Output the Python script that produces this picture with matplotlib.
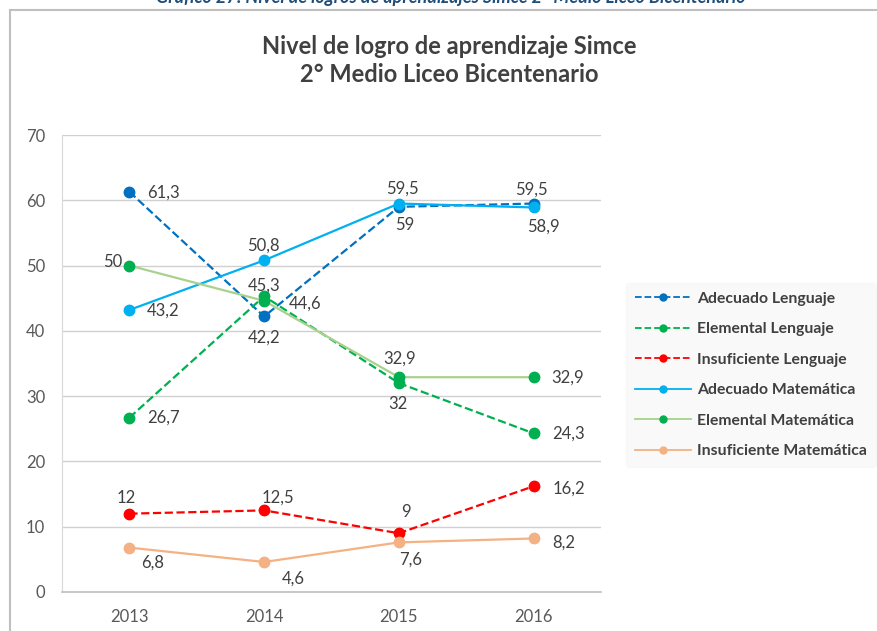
import matplotlib
matplotlib.use("Agg")
import matplotlib.pyplot as plt
from matplotlib.lines import Line2D

plt.rcParams['font.family'] = ['Lato', 'DejaVu Sans']

years = ["2013", "2014", "2015", "2016"]
adecuado_lenguaje = [61.3, 42.2, 59, 59.5]
elemental_lenguaje = [26.7, 45.3, 32, 24.3]
insuficiente_lenguaje = [12, 12.5, 9, 16.2]
adecuado_matematica = [43.2, 50.8, 59.5, 58.9]
elemental_matematica = [50, 44.6, 32.9, 32.9]
insuficiente_matematica = [6.8, 4.6, 7.6, 8.2]

series = [
    ("Adecuado Lenguaje", adecuado_lenguaje, "#0070c0", "#0070c0", "--"),
    ("Elemental Lenguaje", elemental_lenguaje, "#00b050", "#00b050", "--"),
    ("Insuficiente Lenguaje", insuficiente_lenguaje, "#ff0000", "#ff0000", "--"),
    ("Adecuado Matemática", adecuado_matematica, "#00b0f0", "#00b0f0", "-"),
    ("Elemental Matemática", elemental_matematica, "#a9d18e", "#00b050", "-"),
    ("Insuficiente Matemática", insuficiente_matematica, "#f4b183", "#f4b183", "-"),
]

# label offsets in pixels (dx, dy) per series / point
offsets = [
    [(34, -1), (0, -21), (6, -18), (-2, 14)],
    [(34, 0), (0, 11), (-1, -21), (35, 0)],
    [(-3, 16), (14, 13), (7, 21), (35, -2)],
    [(34, -1), (-1, 15), (4, 15), (10, -19)],
    [(-17, 4), (41, -3), (1, 19), (34, 0)],
    [(23, -15), (29, -17), (12, -17), (30, -4)],
]

fig = plt.figure(figsize=(8.77, 6.31), dpi=100)
ax = fig.add_axes([62 / 877, 39 / 631, 539 / 877, 457 / 631])

x = list(range(len(years)))
handles = []
for (name, vals, lc, mc, ls), offs in zip(series, offsets):
    h, = ax.plot(x, vals, linestyle=ls, color=lc, lw=1.6, marker="o",
                 markersize=7.5, markerfacecolor=mc, markeredgecolor=mc,
                 label=name, zorder=3)
    handles.append(h)
    for xi, v, (dx, dy) in zip(x, vals, offs):
        ax.annotate(f"{v:g}".replace(".", ","), (xi, v), xytext=(dx, dy),
                    textcoords="offset pixels", ha="center", va="center",
                    fontsize=12, color="#404040", zorder=4)

ax.set_xlim(-0.5, 3.5)
ax.set_ylim(0, 70)
ax.set_yticks(range(0, 71, 10))
ax.set_xticks(x)
ax.set_xticklabels(years)
ax.tick_params(axis="both", length=0, labelsize=12, colors="#595959")
ax.tick_params(axis="x", pad=12)
ax.tick_params(axis="y", pad=12)
ax.yaxis.grid(True, color="#d0d0d0", lw=1)
ax.set_axisbelow(True)
for s in ["top", "right"]:
    ax.spines[s].set_visible(False)
ax.spines["left"].set_color("#d9d9d9")
ax.spines["bottom"].set_color("#bfbfbf")
ax.spines["bottom"].set_linewidth(1.2)

leg_handles = [Line2D([0], [0], color=h.get_color(), linestyle=h.get_linestyle(),
                      lw=1.3, marker="o", markersize=5,
                      markerfacecolor=h.get_markerfacecolor(),
                      markeredgecolor=h.get_markeredgecolor())
               for h in handles]
leg = fig.legend(leg_handles, [s[0] for s in series], loc="upper left",
                 bbox_to_anchor=(626 / 877, 1 - 283 / 631), frameon=True,
                 fontsize=11.3, handlelength=3.6, labelspacing=1.05,
                 borderpad=0.55, handletextpad=0.4, borderaxespad=0)
leg.get_frame().set_facecolor("#f8f8f8")
leg.get_frame().set_edgecolor("#f8f8f8")
for t in leg.get_texts():
    t.set_color("#404040")
    t.set_fontweight("bold")

fig.text(449 / 877, 1 - 46 / 631, "Nivel de logro de aprendizaje Simce",
         ha="center", va="center", fontsize=17, fontweight="bold", color="#404040")
fig.text(449 / 877, 1 - 75 / 631, "2° Medio Liceo Bicentenario",
         ha="center", va="center", fontsize=17, fontweight="bold", color="#404040")

fig.text(451 / 877, 1 - 3 / 631,
         "Gráfico 27: Nivel de logros de aprendizajes Simce 2° Medio Liceo Bicentenario",
         ha="center", va="baseline", fontsize=13, fontweight="bold",
         style="italic", color="#1f4e79")

fig.add_artist(Line2D([10 / 877, 10 / 877], [0, 1 - 10 / 631],
                      color="#bfbfbf", lw=1.5))
fig.add_artist(Line2D([10 / 877, 1], [1 - 10 / 631, 1 - 10 / 631],
                      color="#bfbfbf", lw=1.5))

fig.savefig("out.png", dpi=100)
